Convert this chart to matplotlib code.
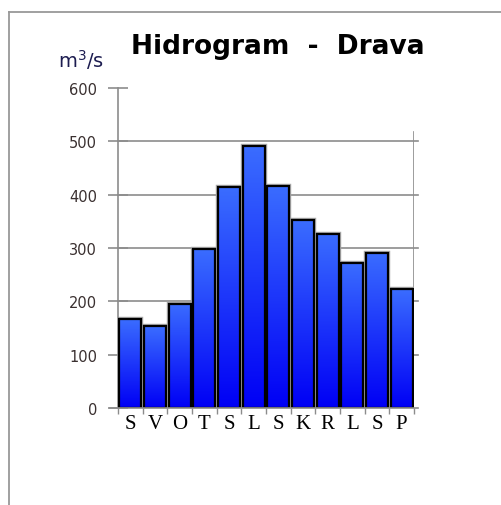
import numpy as np
import matplotlib
matplotlib.use("Agg")
from matplotlib import pyplot as plt
from matplotlib.lines import Line2D
from matplotlib.colors import LinearSegmentedColormap

# mjesecni protoci Drave (m3/s)
months = ["S", "V", "O", "T", "S", "L", "S", "K", "R", "L", "S", "P"]
flow = [166, 153, 195, 298, 414, 491, 417, 352, 327, 272, 291, 223]
yticks = [0, 100, 200, 300, 400, 500, 600]

W, H = 501, 506
fig = plt.figure(figsize=(W / 100, H / 100), dpi=100)
ax = fig.add_axes([118 / W, 1 - 409 / H, (414 - 118) / W, (409 - 89) / H])

# okvir oko slike
fig.add_artist(Line2D([9 / W, 9 / W], [0, 1 - 13 / H], transform=fig.transFigure, color="#999999", lw=1.3))
fig.add_artist(Line2D([9 / W, 1], [1 - 13 / H, 1 - 13 / H], transform=fig.transFigure, color="#999999", lw=1.3))

grad = LinearSegmentedColormap.from_list("g", ["#0000f5", "#3a6cff"])
x = np.arange(len(months))
bars = ax.bar(x, flow, width=0.9, color="none", edgecolor="black", linewidth=1.6, zorder=3)
for b in bars:
    x0, y0, w, h = b.get_x(), b.get_y(), b.get_width(), b.get_height()
    im = ax.imshow(np.linspace(0, 1, 100).reshape(-1, 1), cmap=grad, aspect="auto",
                   extent=[x0, x0 + w, 0, h], origin="lower", zorder=2)
    im.set_clip_path(b)
    # siva sjena oko stupca
    ax.bar(x0 + w / 2, h, width=w, color="none", edgecolor="#aaaaaa", linewidth=3.2, zorder=1.5)

ax.set_xlim(-0.5, 11.5)
ax.set_ylim(0, 600)

for v in yticks[1:6]:
    ax.plot([-0.5, 11.68], [v, v], color="#8c8c8c", lw=1.2, zorder=1, clip_on=False)
ax.plot([11.5, 11.5], [0, 518], color="#8c8c8c", lw=1.2, zorder=1)
ax.plot([-0.82, 11.68], [0, 0], color="#8c8c8c", lw=1.2, zorder=4, clip_on=False)

for s in ["top", "right", "bottom"]:
    ax.spines[s].set_visible(False)
ax.spines["left"].set_color("#8c8c8c")
ax.spines["left"].set_linewidth(1.2)

ax.set_yticks(yticks)
ax.set_yticklabels([str(v) for v in yticks], fontsize=10.5, color="#3a3030", family="DejaVu Sans")
ax.tick_params(axis="y", direction="inout", length=14, width=1.2, color="#8c8c8c", pad=8)

ax.set_xticks(x)
ax.set_xticklabels(months, fontsize=15, family="Liberation Serif", color="black")
ax.tick_params(axis="x", length=0, pad=4)
ax.set_xticks(np.arange(-0.5, 12, 1), minor=True)
ax.tick_params(axis="x", which="minor", length=4, width=1.0, color="#8c8c8c")

fig.text(278 / W, 1 - 47 / H, "Hidrogram  -  Drava", ha="center", va="center",
         fontsize=19, fontweight="bold", family="DejaVu Sans")
fig.text(81 / W, 1 - 60 / H, "m$^3$/s", ha="center", va="center", fontsize=14,
         color="#1c1c50", family="DejaVu Sans")

fig.savefig("out.png", dpi=100)
